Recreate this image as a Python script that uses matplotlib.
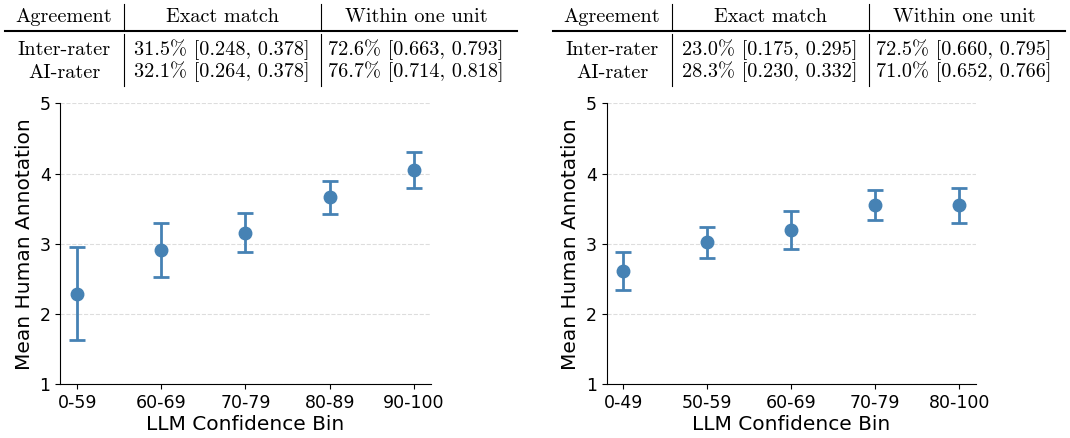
import matplotlib
matplotlib.use("Agg")
import matplotlib.pyplot as plt
from matplotlib.lines import Line2D

# panel data: (bins, means, lower CI, upper CI)
left_bins = ["0-59", "60-69", "70-79", "80-89", "90-100"]
left_means = [2.29, 2.91, 3.16, 3.66, 4.05]
left_lo = [1.63, 2.53, 2.88, 3.43, 3.79]
left_hi = [2.95, 3.29, 3.44, 3.89, 4.30]

right_bins = ["0-49", "50-59", "60-69", "70-79", "80-100"]
right_means = [2.61, 3.02, 3.19, 3.55, 3.55]
right_lo = [2.34, 2.80, 2.92, 3.34, 3.30]
right_hi = [2.88, 3.24, 3.47, 3.77, 3.80]

# agreement tables above each panel
table_header = ["Agreement", "Exact match", "Within one unit"]
table_raters = ["Inter-rater", "AI-rater"]
left_exact = ["31.5% [0.248, 0.378]", "32.1% [0.264, 0.378]"]
left_within = ["72.6% [0.663, 0.793]", "76.7% [0.714, 0.818]"]
right_exact = ["23.0% [0.175, 0.295]", "28.3% [0.230, 0.332]"]
right_within = ["72.5% [0.660, 0.795]", "71.0% [0.652, 0.766]"]

W, H = 1070, 438
fig = plt.figure(figsize=(W / 100, H / 100), dpi=100)

color = "#4682B4"


def px(x, y):
    return x / W, 1 - y / H


def draw_table(x0, exact, within):
    serif = ["cmr10", "DejaVu Serif"]
    cols = [x0 + 59, x0 + 217, x0 + 411]
    for cx, t in zip(cols, table_header):
        fig.text(*px(cx, 21.5), t, ha="center", va="baseline", fontsize=14.6, family=serif)
    for i, y in enumerate([55, 77.5]):
        row = [table_raters[i], exact[i], within[i]]
        for cx, t in zip(cols, row):
            fig.text(*px(cx, y), t, ha="center", va="baseline", fontsize=14.6, family=serif)
    # booktabs-ish rule and column separators
    xa, ya = px(x0, 31)
    xb, _ = px(x0 + 512, 31)
    fig.add_artist(Line2D([xa, xb], [ya, ya], color="black", lw=1.5, transform=fig.transFigure))
    for vx in [x0 + 119, x0 + 316]:
        for (ytop, ybot) in [(4, 28.5), (33.5, 86)]:
            fx, fy1 = px(vx, ytop)
            _, fy2 = px(vx, ybot)
            fig.add_artist(Line2D([fx, fx], [fy1, fy2], color="black", lw=0.8, transform=fig.transFigure))


def draw_panel(rect, bins, means, lo, hi):
    ax = fig.add_axes(rect)
    x = list(range(len(bins)))
    yerr = [[m - l for m, l in zip(means, lo)], [h - m for m, h in zip(means, hi)]]
    ax.errorbar(x, means, yerr=yerr, fmt="o", color=color, ecolor=color,
                markersize=9, elinewidth=2, capsize=6, capthick=2, zorder=3)
    ax.set_xlim(-0.2, len(bins) - 0.8)
    ax.set_ylim(1, 5)
    ax.set_yticks([1, 2, 3, 4, 5])
    ax.set_xticks(x)
    ax.set_xticklabels(bins)
    ax.tick_params(labelsize=12.5)
    ax.set_xlabel("LLM Confidence Bin", fontsize=14.5, labelpad=2)
    ax.set_ylabel("Mean Human Annotation", fontsize=14.5)
    ax.grid(axis="y", linestyle="--", color="#dddddd", linewidth=0.8)
    ax.set_axisbelow(True)
    ax.spines["top"].set_visible(False)
    ax.spines["right"].set_visible(False)
    return ax


draw_table(5, left_exact, left_within)
draw_table(553, right_exact, right_within)

draw_panel([60.3 / W, 1 - 384.3 / H, 370.4 / W, 281 / H], left_bins, left_means, left_lo, left_hi)
draw_panel([606.7 / W, 1 - 384.3 / H, 369.3 / W, 281 / H], right_bins, right_means, right_lo, right_hi)

fig.savefig("out.png", dpi=100)
